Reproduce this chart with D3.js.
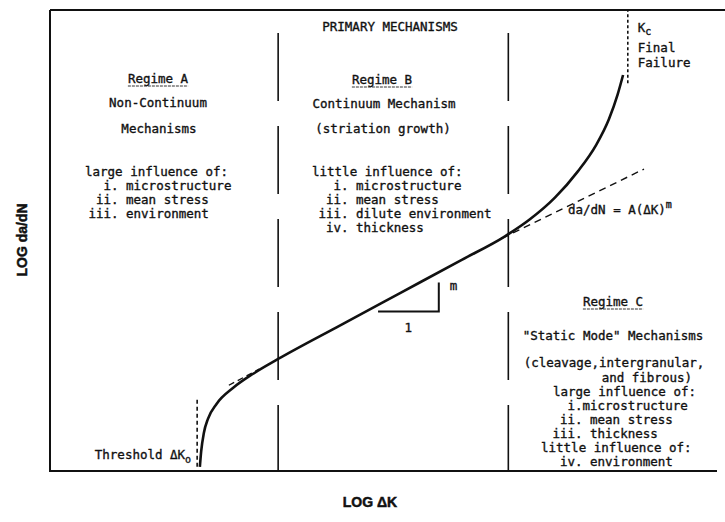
<!DOCTYPE html>
<html>
<head>
  <meta charset="utf-8">
  <script src="https://d3js.org/d3.v7.min.js"></script>
  <style>
    body { margin: 0; background: #fff; }
    text.mono { font-family: "DejaVu Sans Mono", "Liberation Mono", monospace; font-size: 12.5px; fill: #111; stroke: #111; stroke-width: 0.35px; }
    text.axis { font-family: "Liberation Sans", Arial, sans-serif; font-weight: bold; font-size: 14px; fill: #111; stroke: #111; stroke-width: 0.5px; }
  </style>
</head>
<body>
<script>
// fatigue crack growth curve, schematic (log da/dN vs log dK)
var curveLogK    = [2.22, 2.24, 2.28, 2.34, 2.47, 2.71, 3.01, 3.38, 4.30, 5.20, 6.10, 6.74, 7.11, 7.48, 7.82, 8.09, 8.28, 8.41, 8.49];
var curveLogRate = [0.09, 0.43, 0.83, 1.13, 1.46, 1.80, 2.11, 2.43, 3.16, 3.87, 4.58, 5.09, 5.46, 5.93, 6.50, 7.07, 7.63, 8.17, 8.59];

var powerLawK = [6.70, 8.80], powerLawRate = [5.05, 6.55];
var tangentK = [2.65, 3.10], tangentRate = [1.86, 2.21];

var regimeBounds = [3.38, 6.79];
var thresholdK = 2.18, thresholdRate = [0.09, 1.57];
var criticalK = 8.56, criticalRate = [8.41, 10];

var slopeK = [4.86, 5.76], slopeRate = [3.46, 4.09];

var headerText = "PRIMARY MECHANISMS";
var regimeA = ["Regime A", "Non-Continuum", "Mechanisms"];
var regimeAList = ["large influence of:", "i. microstructure", "ii. mean stress", "iii. environment"];
var regimeB = ["Regime B", "Continuum Mechanism", "(striation growth)"];
var regimeBList = ["little influence of:", "i. microstructure", "ii. mean stress", "iii. dilute environment", "iv. thickness"];
var regimeC = ["Regime C", "\"Static Mode\" Mechanisms", "(cleavage,intergranular,", "and fibrous)"];
var regimeCList = ["large influence of:", "i.microstructure", "ii. mean stress", "iii. thickness", "little influence of:", "iv. environment"];

var W = 725, H = 522, cw = 7.53;

var svg = d3.select("body").append("svg")
    .attr("width", W).attr("height", H);

var x = d3.scaleLinear().domain([0, 10]).range([50, 725]);
var y = d3.scaleLinear().domain([0, 10]).range([471, 10]);

// frame: top, left, bottom (no right edge)
svg.append("path")
    .attr("d", "M" + x(0) + "," + y(10) + "H" + x(10) + "M" + x(0) + "," + y(10) + "V" + y(0) + "H" + (x(10) - 8))
    .attr("fill", "none").attr("stroke", "#111").attr("stroke-width", 2);

var line = d3.line().x(function (d) { return x(d[0]); }).y(function (d) { return y(d[1]); });

// regime dividers
regimeBounds.forEach(function (k) {
  svg.append("line")
      .attr("x1", x(k)).attr("x2", x(k))
      .attr("y1", 33).attr("y2", y(0))
      .attr("stroke", "#111").attr("stroke-width", 1.6)
      .attr("stroke-dasharray", "68,25");
});

// threshold and Kc markers
svg.append("path")
    .attr("d", line([[thresholdK, thresholdRate[0]], [thresholdK, thresholdRate[1]]]))
    .attr("stroke", "#111").attr("stroke-width", 1.6).attr("stroke-dasharray", "4,3");
svg.append("path")
    .attr("d", line([[criticalK, criticalRate[0]], [criticalK, criticalRate[1]]]))
    .attr("stroke", "#111").attr("stroke-width", 1.6).attr("stroke-dasharray", "3,2.5");

// dashed power law lines
svg.append("path")
    .attr("d", line([[powerLawK[0], powerLawRate[0]], [powerLawK[1], powerLawRate[1]]]))
    .attr("stroke", "#111").attr("stroke-width", 1.4).attr("stroke-dasharray", "7,5");
svg.append("path")
    .attr("d", line([[tangentK[0], tangentRate[0]], [tangentK[1], tangentRate[1]]]))
    .attr("stroke", "#111").attr("stroke-width", 1.4).attr("stroke-dasharray", "6,4");

// main curve
var pts = curveLogK.map(function (k, i) { return [k, curveLogRate[i]]; });
svg.append("path")
    .attr("d", d3.line().x(function (d) { return x(d[0]); }).y(function (d) { return y(d[1]); })
        .curve(d3.curveMonotoneX)(pts))
    .attr("fill", "none").attr("stroke", "#111").attr("stroke-width", 2.6);

// slope triangle
svg.append("path")
    .attr("d", line([[slopeK[0], slopeRate[0]], [slopeK[1], slopeRate[0]], [slopeK[1], slopeRate[1]]]))
    .attr("fill", "none").attr("stroke", "#111").attr("stroke-width", 2);
svg.append("text").attr("class", "mono").attr("x", x(slopeK[1]) + 11).attr("y", y(slopeRate[1]) + 8).text("m");
svg.append("text").attr("class", "mono").attr("x", (x(slopeK[0]) + x(slopeK[1])) / 2 - 4).attr("y", y(slopeRate[0]) + 21).text("1");

function mono(tx, ty, s, anchor) {
  return svg.append("text").attr("class", "mono")
      .attr("x", tx).attr("y", ty)
      .attr("text-anchor", anchor || "start")
      .text(s);
}
function title(tx, ty, s) {
  mono(tx, ty, s, "middle");
  var w = s.length * cw;
  svg.append("line")
      .attr("x1", tx - w / 2).attr("x2", tx + w / 2)
      .attr("y1", ty + 3).attr("y2", ty + 3)
      .attr("stroke", "#333").attr("stroke-width", 1).attr("stroke-dasharray", "3,1");
}
// list item aligned on its period
function item(periodX, ty, s) {
  mono(periodX - s.indexOf(".") * cw, ty, s);
}

mono(390, 31, headerText, "middle");

// regime A
title(158, 83, regimeA[0]);
mono(158, 107, regimeA[1], "middle");
mono(159, 133, regimeA[2], "middle");
mono(85, 176, regimeAList[0]);
regimeAList.slice(1).forEach(function (s, i) { item(111, 190 + i * 14, s); });

// regime B
title(382, 84, regimeB[0]);
mono(384, 108, regimeB[1], "middle");
mono(383, 133, regimeB[2], "middle");
mono(312, 176, regimeBList[0]);
regimeBList.slice(1).forEach(function (s, i) { item(341, 190 + i * 14, s); });

// regime C
title(613, 306, regimeC[0]);
mono(613, 340, regimeC[1], "middle");
mono(614, 367, regimeC[2], "middle");
mono(692, 382, regimeC[3], "end");
var cY = [396, 410, 424, 438, 452, 466];
regimeCList.forEach(function (s, i) {
  if (s.indexOf("influence") >= 0) mono(i === 0 ? 553 : 541, cY[i], s);
  else item(575, cY[i], s);
});

// Kc label
var kc = mono(x(criticalK) + 10, 32, "K");
kc.append("tspan").attr("dy", 3).attr("font-size", "10px").text("c");
mono(x(criticalK) + 10, 52, "Final");
mono(x(criticalK) + 10, 67, "Failure");

// threshold label
var th = mono(x(thresholdK) - 6, 459, "Threshold \u0394K", "end");
th.append("tspan").attr("dy", 4).attr("font-size", "10px").text("o");

// power law equation
var eq = mono(568, 214, "da/dN = A(\u0394K)");
eq.append("tspan").attr("dy", -6).attr("font-size", "10px").text("m");

// axis titles
svg.append("text").attr("class", "axis")
    .attr("transform", "translate(27,240) rotate(-90)")
    .attr("text-anchor", "middle").text("LOG da/dN");
svg.append("text").attr("class", "axis")
    .attr("x", 370).attr("y", 507)
    .attr("text-anchor", "middle").text("LOG \u0394K");
</script>
</body>
</html>
